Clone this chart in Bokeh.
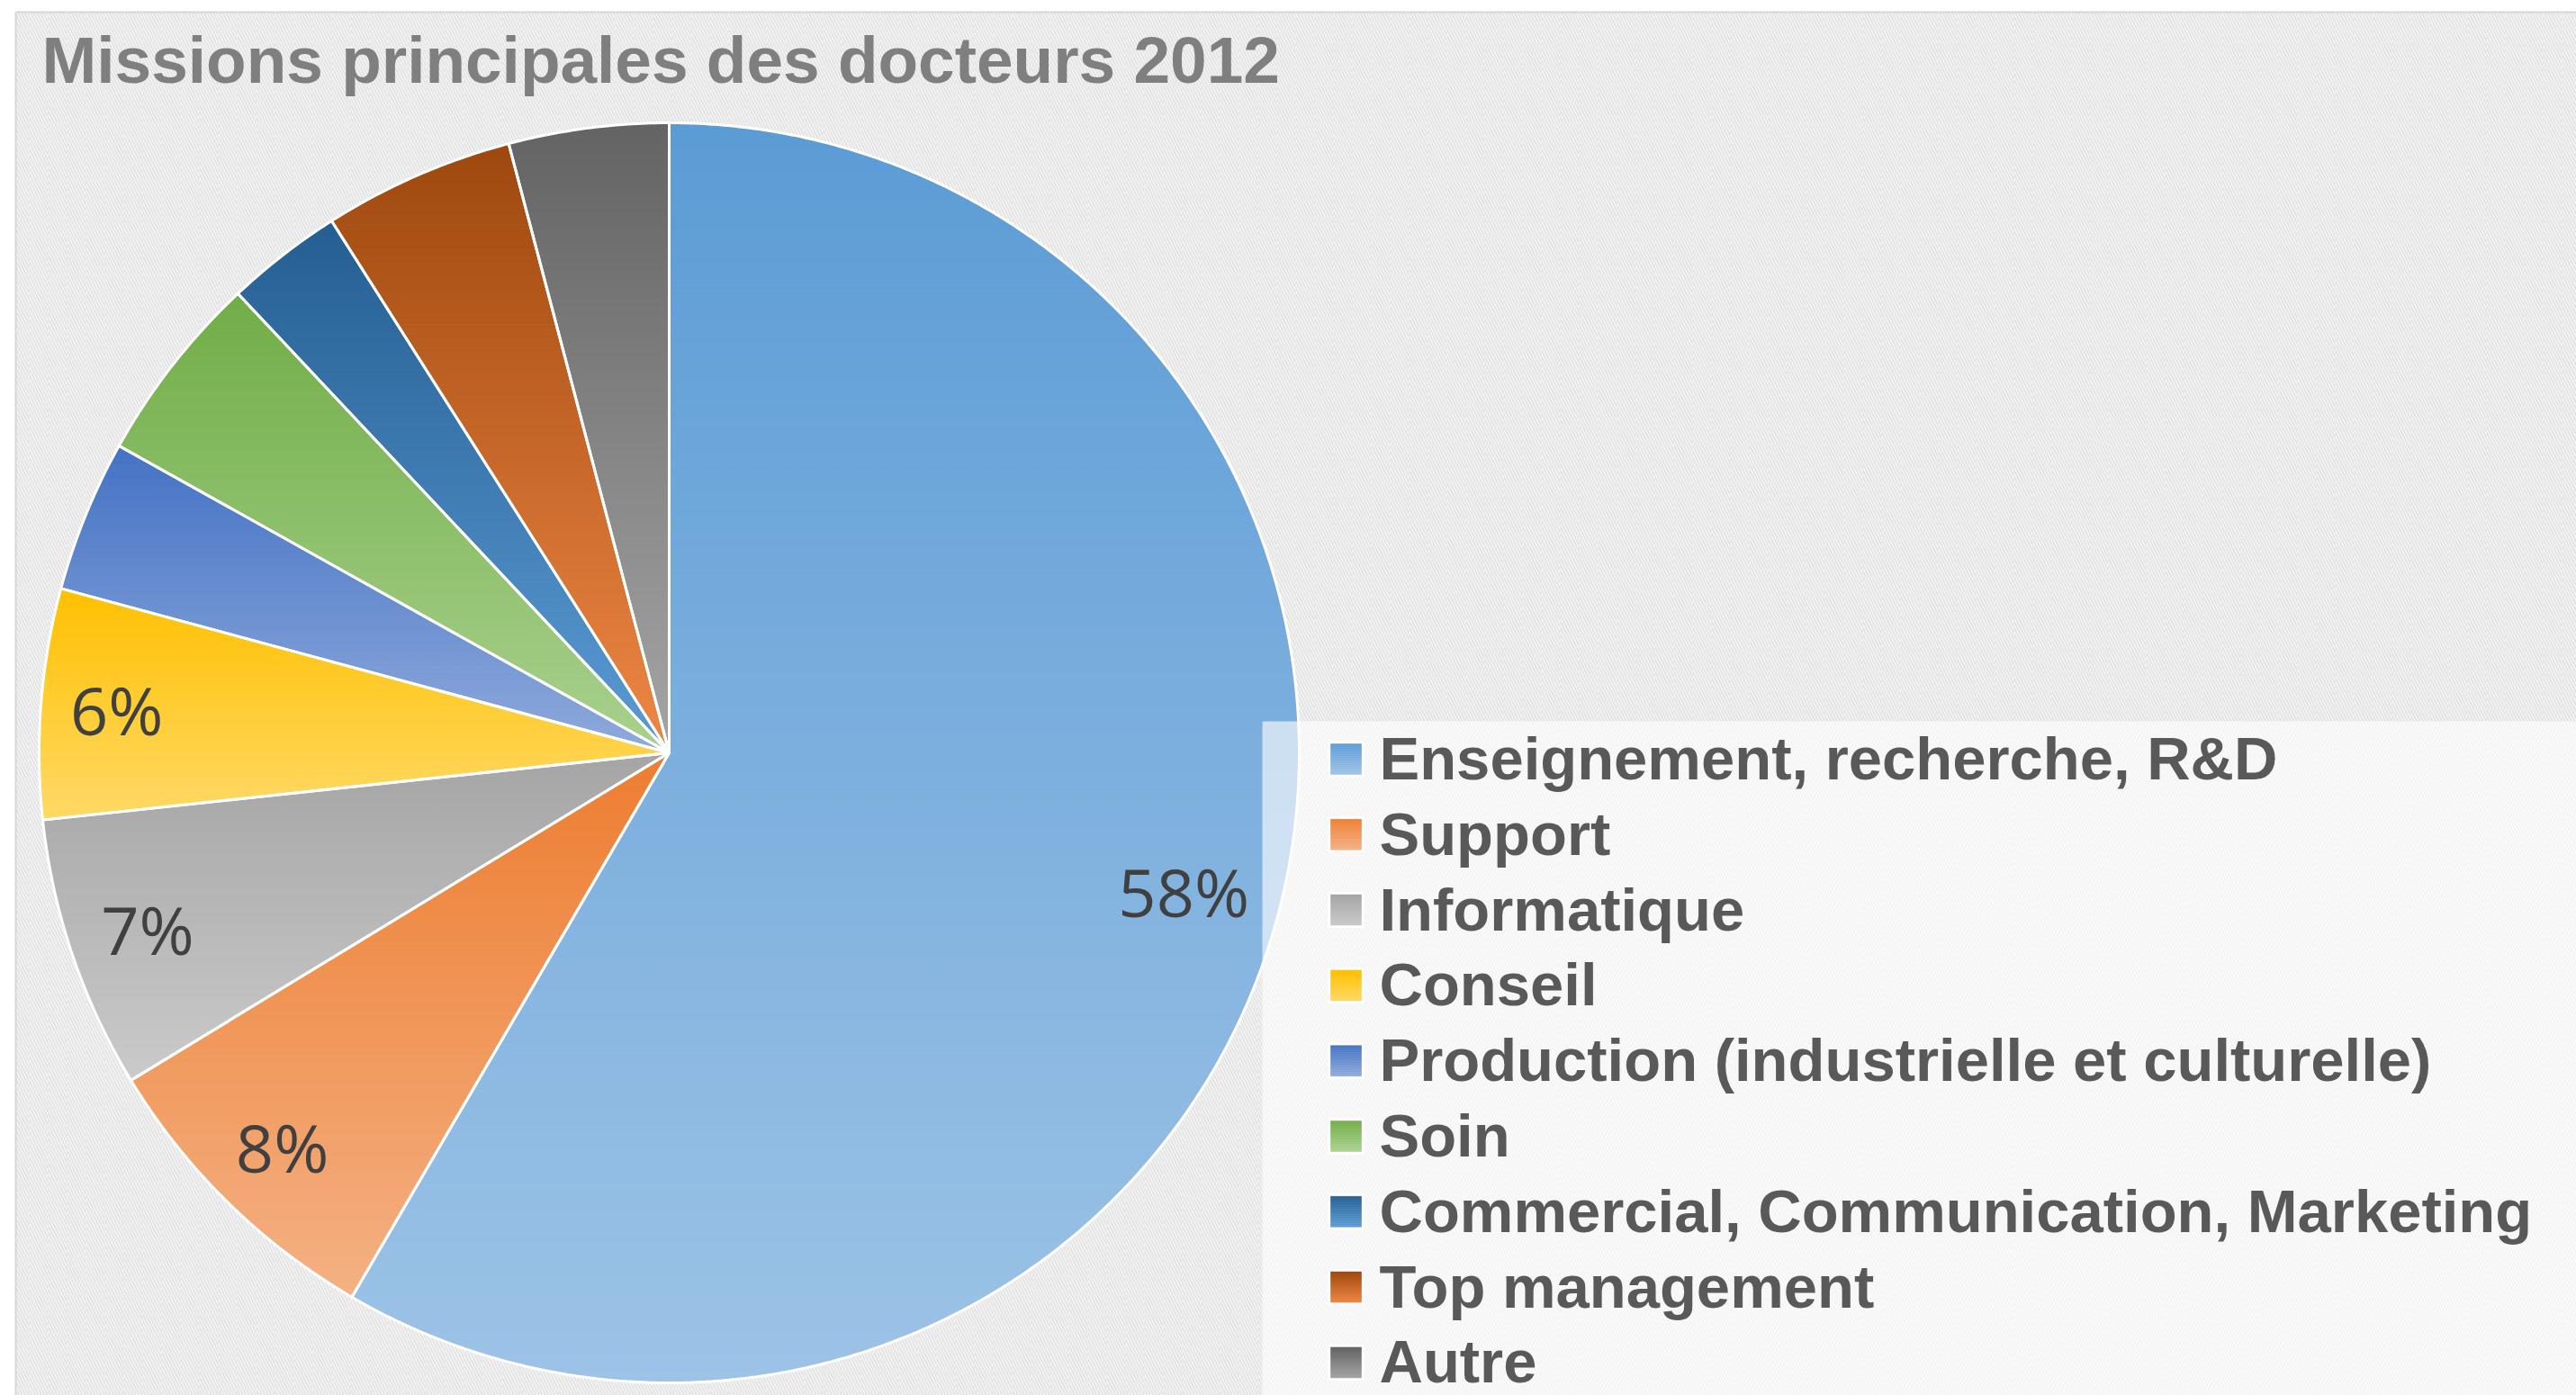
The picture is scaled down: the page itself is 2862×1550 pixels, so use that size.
import numpy as np
from bokeh.plotting import figure
from bokeh.models import Range1d
from bokeh.core.properties import value
from bokeh.embed import file_html
from bokeh.resources import INLINE

# ---------------- data ----------------
title_text = "Missions principales des docteurs 2012"
categories = [
    "Enseignement, recherche, R&D",
    "Support",
    "Informatique",
    "Conseil",
    "Production (industrielle et culturelle)",
    "Soin",
    "Commercial, Communication, Marketing",
    "Top management",
    "Autre",
]
shares = [58.4, 7.9, 7.0, 5.9, 3.9, 4.9, 3.0, 4.9, 4.1]
label_shown = [True, True, True, True, False, False, False, False, False]
colors_top = ["#5B9BD5", "#ED7D31", "#A5A5A5", "#FFC000", "#4472C4",
              "#70AD47", "#255E91", "#9E480E", "#636363"]
colors_bottom = ["#9DC3E6", "#F4B183", "#CACACA", "#FFD966", "#8FAADC",
                 "#A9D18E", "#5B9BD5", "#EE8745", "#A5A5A5"]

# ---------------- helpers ----------------
W, H = 2862, 1550


def hex2rgb(h):
    h = h.lstrip("#")
    return np.array([int(h[i:i + 2], 16) for i in (0, 2, 4)], dtype=float)


def mix(c0, c1, t):
    a, b = hex2rgb(c0), hex2rgb(c1)
    c = a + (b - a) * t
    return "#%02x%02x%02x" % tuple(int(round(v)) for v in c)


def clip_half(poly, keep_above, yc):
    out = []
    n = len(poly)
    for i in range(n):
        cur = poly[i]
        prev = poly[i - 1]
        cin = cur[1] >= yc if keep_above else cur[1] <= yc
        pin = prev[1] >= yc if keep_above else prev[1] <= yc
        if cin:
            if not pin:
                t = (yc - prev[1]) / (cur[1] - prev[1])
                out.append((prev[0] + t * (cur[0] - prev[0]), yc))
            out.append(cur)
        elif pin:
            t = (yc - prev[1]) / (cur[1] - prev[1])
            out.append((prev[0] + t * (cur[0] - prev[0]), yc))
    return out


p = figure(width=W, height=H, x_range=Range1d(0, W), y_range=Range1d(0, H),
           x_axis_location=None, y_axis_location=None, toolbar_location=None,
           output_backend="svg", min_border=0)
p.grid.visible = False
p.outline_line_color = None
p.background_fill_color = "white"
p.border_fill_color = "white"

# chart area background (hatched)
p.quad(left=17, right=W + 10, top=H - 13, bottom=-10, fill_color="#f8f8f8",
       hatch_pattern="\\", hatch_color="#e3e3e3", hatch_scale=7, hatch_weight=2,
       line_color="#d6d6d6", line_width=2)
p.quad(left=17, right=W + 10, top=H - 13, bottom=-10, fill_alpha=0,
       hatch_pattern="+", hatch_color="#ebebeb", hatch_scale=21, hatch_weight=1,
       line_color=None)

# ---------------- pie ----------------
cx, cy, R = 743.0, H - 836.0, 700.0
vals = np.array(shares, dtype=float)
frac = vals / vals.sum()
ends = np.cumsum(frac) * 2 * np.pi
starts = ends - frac * 2 * np.pi

strip_xs, strip_ys, strip_cols = [], [], []
out_xs, out_ys = [], []
for i in range(len(vals)):
    t0, t1 = starts[i], ends[i]
    n = max(6, int(np.degrees(t1 - t0) / 0.4))
    th = np.linspace(t0, t1, n)
    px = [cx] + list(cx + R * np.sin(th))
    py = [cy] + list(cy + R * np.cos(th))
    poly = list(zip(px, py))
    out_xs.append(px)
    out_ys.append(py)
    ymin, ymax = min(py), max(py)
    nb = max(8, int((ymax - ymin) / 5))
    edges = np.linspace(ymax, ymin, nb + 1)
    for b in range(nb):
        ytop, ybot = edges[b], edges[b + 1]
        q = clip_half(poly, True, ybot)
        if len(q) < 3:
            continue
        q = clip_half(q, False, ytop)
        if len(q) < 3:
            continue
        tt = (b + 0.5) / nb
        strip_xs.append([a[0] for a in q])
        strip_ys.append([a[1] for a in q])
        strip_cols.append(mix(colors_top[i], colors_bottom[i], tt))

p.patches(strip_xs, strip_ys, fill_color=strip_cols, line_color=strip_cols,
          line_width=1)
p.patches(out_xs, out_ys, fill_color=None, line_color="white", line_width=3,
          line_join="round")

# data labels: placed "inside end" so that the label box stays inside the pie
LFS = 74.0
mids = (starts + ends) / 2
lab_x, lab_y, lab_t = [], [], []
for i in range(len(vals)):
    if not label_shown[i]:
        continue
    txt = "%d%%" % round(shares[i])
    a = 0.5 * LFS * (0.572 * (len(txt) - 1) + 0.832)
    bh = 0.37 * LFS
    ux, uy = np.sin(mids[i]), np.cos(mids[i])
    lo, hi = 0.0, R
    for _ in range(40):
        d = 0.5 * (lo + hi)
        far = max(np.hypot(d * ux + sx * a, d * uy + sy * bh)
                  for sx in (-1, 1) for sy in (-1, 1))
        if far > R - 30:
            hi = d
        else:
            lo = d
    lab_x.append(cx + lo * ux)
    lab_y.append(cy + lo * uy)
    lab_t.append(txt)
p.text(lab_x, lab_y, text=lab_t, text_align="center", text_baseline="middle",
       text_font=value("Open Sans"), text_font_size="%dpx" % LFS, text_color="#404040")

# ---------------- legend ----------------
p.quad(left=1402, right=W + 10, top=H - 801, bottom=-10, fill_color="white",
       fill_alpha=0.62, line_color=None)

row0 = H - 843.0
step = 83.8
mk = 34.0
mkx = 1495.0
for i, cat in enumerate(categories):
    yc = row0 - i * step
    p.quad(left=mkx - mk / 2 - 3, right=mkx + mk / 2 + 3,
           top=yc + mk / 2 + 3, bottom=yc - mk / 2 - 3,
           fill_color="white", line_color=None)
    nbm = 17
    e = np.linspace(yc + mk / 2, yc - mk / 2, nbm + 1)
    cols = [mix(colors_top[i], colors_bottom[i], (k + 0.5) / nbm) for k in range(nbm)]
    p.quad(left=[mkx - mk / 2] * nbm, right=[mkx + mk / 2] * nbm,
           top=list(e[:-1]), bottom=list(e[1:]), fill_color=cols, line_color=cols,
           line_width=0.5)

p.text([1532] * len(categories), [row0 - i * step + 1 for i in range(len(categories))],
       text=categories, text_align="left", text_baseline="middle",
       text_font=value("Liberation Sans"), text_font_style="bold",
       text_font_size="67px", text_color="#595959")

# ---------------- title ----------------
p.text([46], [H - 66], text=[title_text], text_align="left", text_baseline="middle",
       text_font=value("Liberation Sans"), text_font_style="bold",
       text_font_size="73px", text_color="#7F7F7F")

open("out.html", "w").write(file_html(p, INLINE))
